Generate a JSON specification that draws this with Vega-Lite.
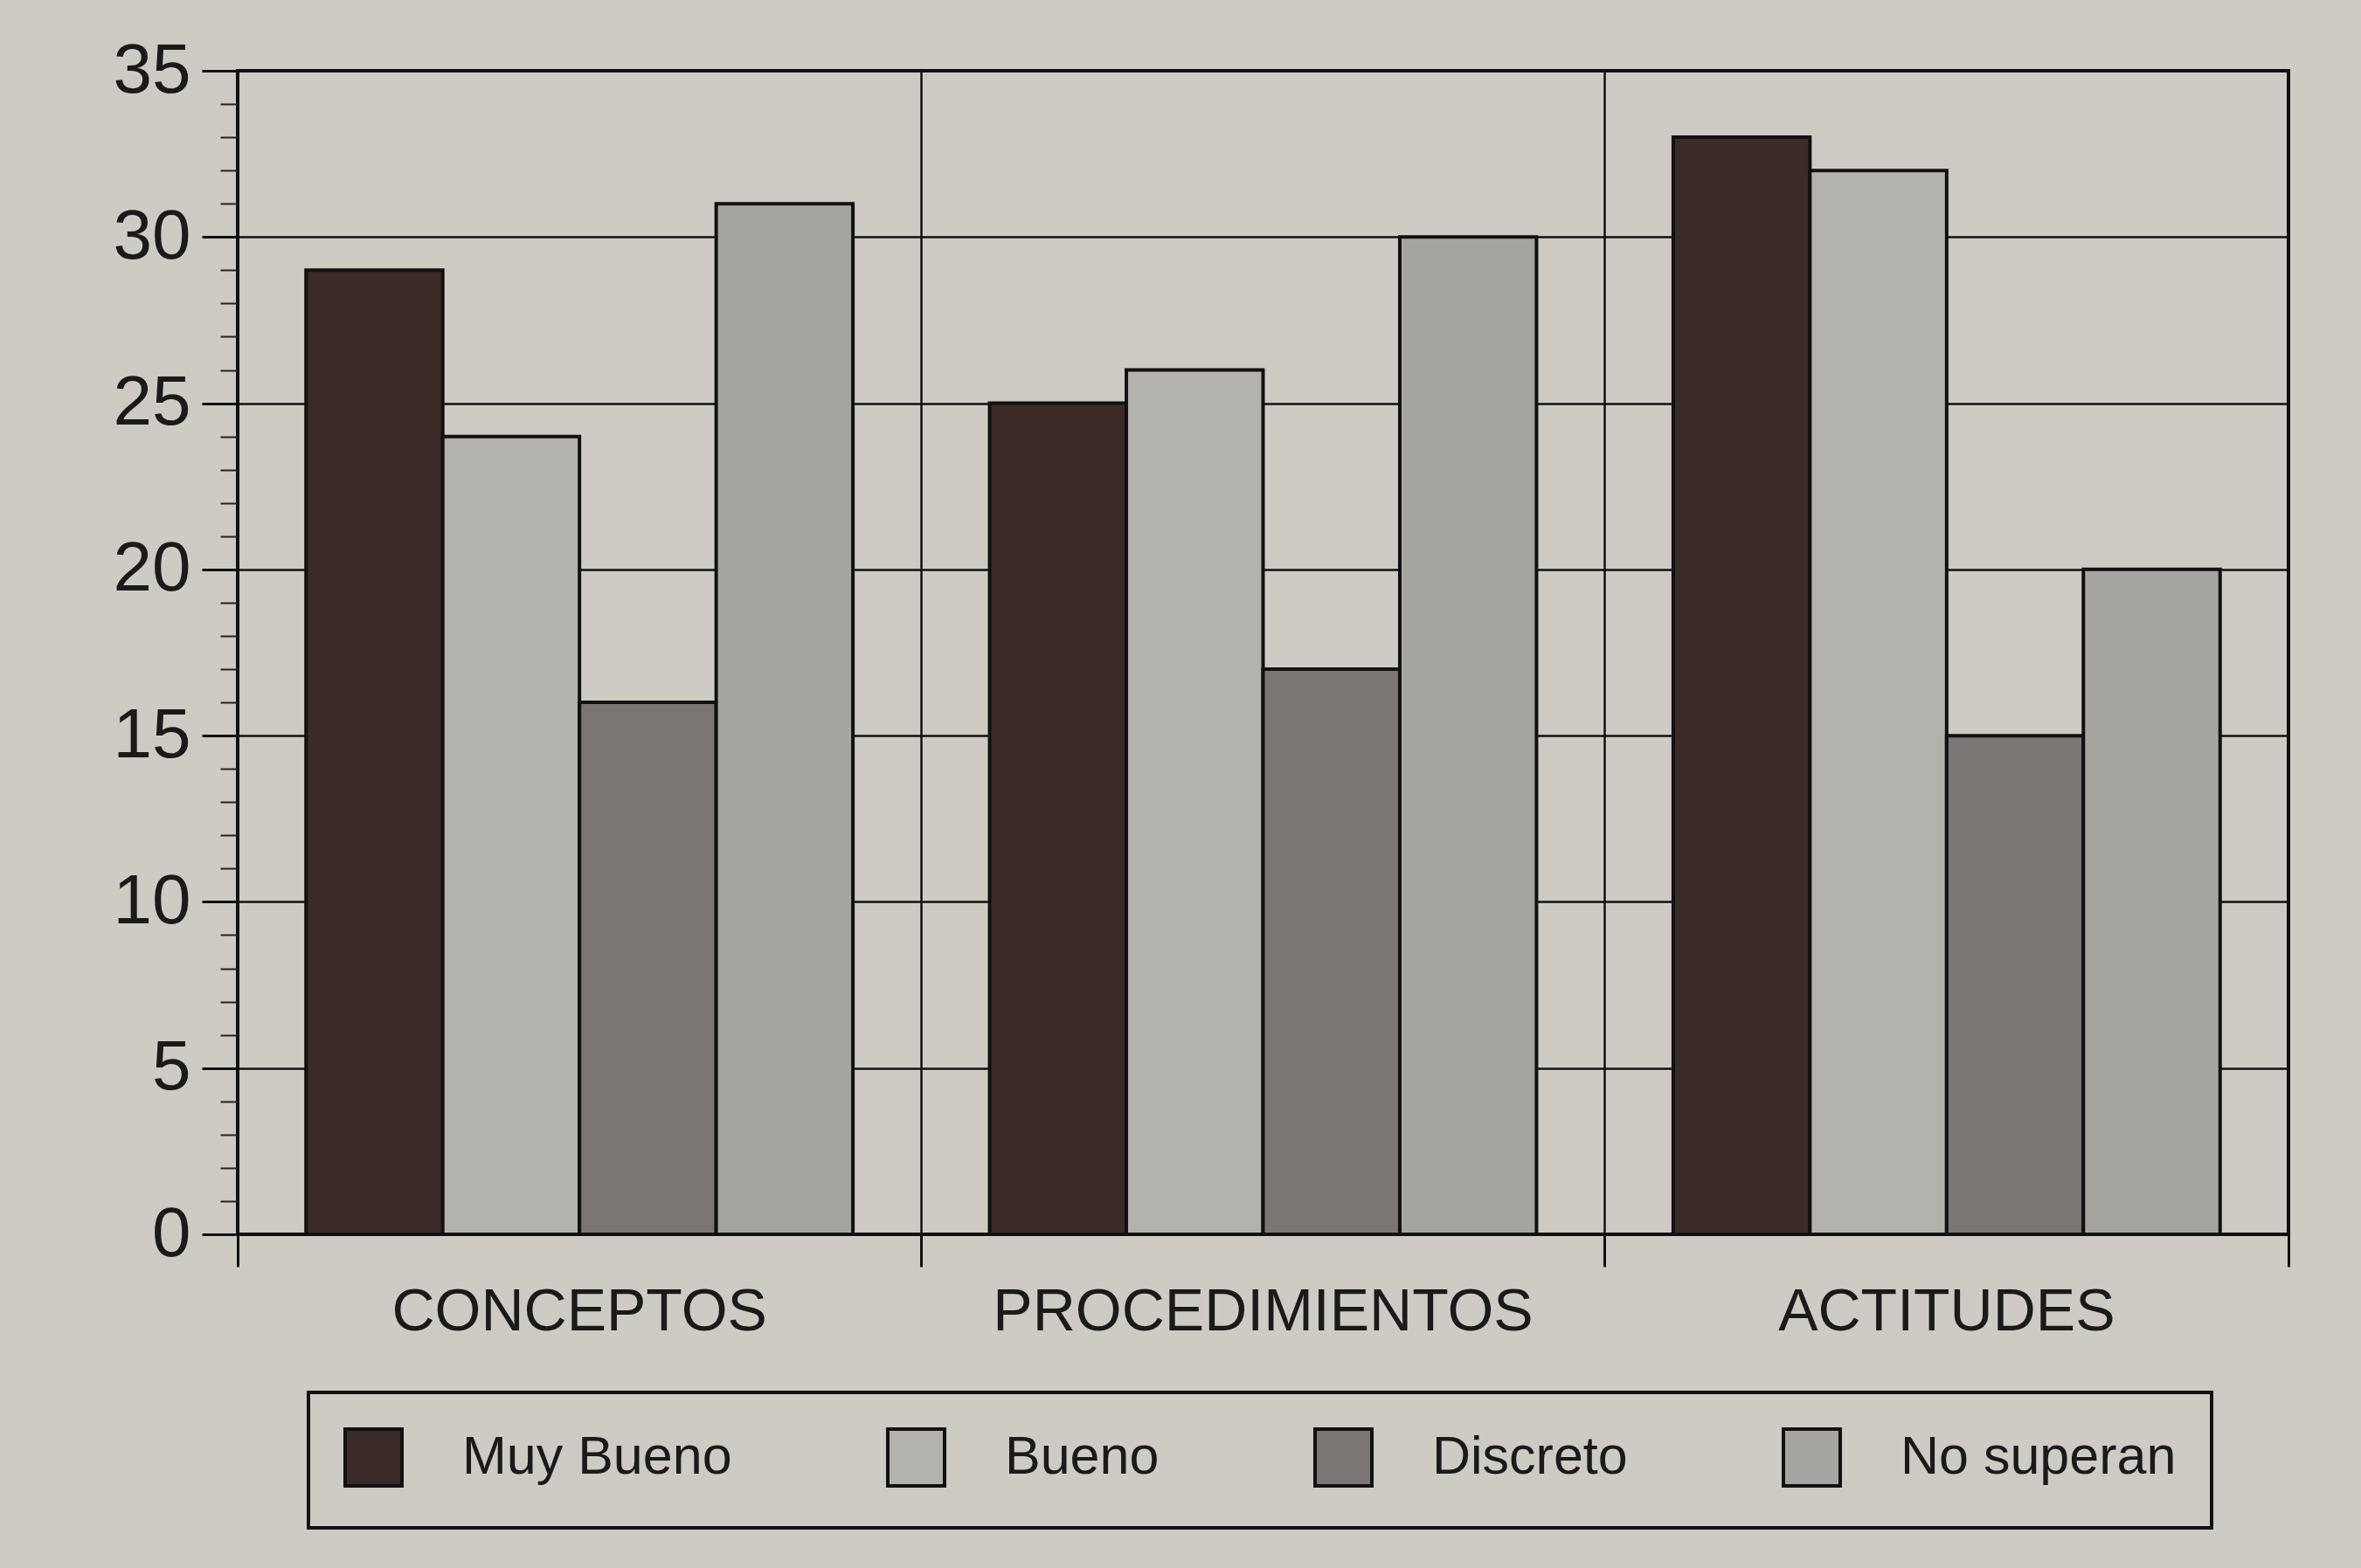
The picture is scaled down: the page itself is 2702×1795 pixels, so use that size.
{
  "$schema": "https://vega.github.io/schema/vega-lite/v6.json",
  "autosize": {"type": "none"},
  "width": 2347,
  "height": 1332,
  "padding": {"left": 272, "top": 81, "right": 83, "bottom": 382},
  "background": "#cdcbc4",
  "config": {
    "view": {"stroke": "#111111", "strokeWidth": 4, "fill": null},
    "font": "Liberation Sans",
    "legend": {"strokeWidth": 4}
  },
  "data": {
    "values": [
      {"cat": "CONCEPTOS", "grade": "Muy Bueno", "value": 29},
      {"cat": "CONCEPTOS", "grade": "Bueno", "value": 24},
      {"cat": "CONCEPTOS", "grade": "Discreto", "value": 16},
      {"cat": "CONCEPTOS", "grade": "No superan", "value": 31},
      {"cat": "PROCEDIMIENTOS", "grade": "Muy Bueno", "value": 25},
      {"cat": "PROCEDIMIENTOS", "grade": "Bueno", "value": 26},
      {"cat": "PROCEDIMIENTOS", "grade": "Discreto", "value": 17},
      {"cat": "PROCEDIMIENTOS", "grade": "No superan", "value": 30},
      {"cat": "ACTITUDES", "grade": "Muy Bueno", "value": 33},
      {"cat": "ACTITUDES", "grade": "Bueno", "value": 32},
      {"cat": "ACTITUDES", "grade": "Discreto", "value": 15},
      {"cat": "ACTITUDES", "grade": "No superan", "value": 20}
    ]
  },
  "layer": [
    {
      "mark": {"type": "bar", "opacity": 0},
      "encoding": {
        "x": {
          "field": "cat", "type": "nominal",
          "sort": ["CONCEPTOS", "PROCEDIMIENTOS", "ACTITUDES"],
          "scale": {"paddingInner": 0, "paddingOuter": 0},
          "axis": {
            "orient": "bottom", "title": null, "bandPosition": 0,
            "labels": false, "domain": false,
            "grid": true, "gridColor": "#111111", "gridWidth": 2.5, "gridOpacity": 1,
            "ticks": true, "tickSize": 37, "tickWidth": 3, "tickColor": "#111111"
          }
        },
        "y": {
          "field": "value", "type": "quantitative",
          "scale": {"domain": [0, 35], "nice": false},
          "axis": {
            "orient": "left", "title": null,
            "values": [0,1,2,3,4,5,6,7,8,9,10,11,12,13,14,15,16,17,18,19,20,21,22,23,24,25,26,27,28,29,30,31,32,33,34,35],
            "labels": false, "domain": false, "grid": false,
            "ticks": true, "tickSize": 20, "tickWidth": 2, "tickColor": "#222222"
          }
        }
      }
    },
    {
      "mark": {"type": "bar", "opacity": 0},
      "encoding": {
        "x": {
          "field": "cat", "type": "nominal",
          "sort": ["CONCEPTOS", "PROCEDIMIENTOS", "ACTITUDES"],
          "axis": {
            "orient": "bottom", "title": null, "bandPosition": 1,
            "values": ["ACTITUDES"],
            "labels": false, "domain": false, "grid": false,
            "ticks": true, "tickSize": 37, "tickWidth": 3, "tickColor": "#111111"
          }
        },
        "y": {
          "field": "value", "type": "quantitative",
          "axis": {
            "orient": "left", "title": null,
            "values": [0, 5, 10, 15, 20, 25, 30, 35],
            "domain": false,
            "grid": true, "gridColor": "#111111", "gridWidth": 2.5, "gridOpacity": 1,
            "ticks": true, "tickSize": 41, "tickWidth": 3, "tickColor": "#111111",
            "labelFontSize": 80, "labelColor": "#1a1a1a", "labelPadding": 13,
            "labelFont": "Liberation Sans"
          }
        }
      }
    },
    {
      "mark": {"type": "bar", "stroke": "#111111", "strokeWidth": 4},
      "encoding": {
        "x": {
          "field": "cat", "type": "nominal",
          "sort": ["CONCEPTOS", "PROCEDIMIENTOS", "ACTITUDES"],
          "axis": {
            "orient": "bottom", "title": null,
            "domain": false, "grid": false, "ticks": false, "tickSize": 0,
            "labelAngle": 0, "labelFontSize": 68, "labelColor": "#1a1a1a",
            "labelPadding": 55, "labelFont": "Liberation Sans", "labelLimit": 1000
          }
        },
        "xOffset": {
          "field": "grade", "type": "nominal",
          "sort": ["Muy Bueno", "Bueno", "Discreto", "No superan"],
          "scale": {"paddingInner": 0, "paddingOuter": 0.5}
        },
        "y": {
          "field": "value", "type": "quantitative",
          "axis": null
        },
        "color": {
          "field": "grade", "type": "nominal",
          "sort": ["Muy Bueno", "Bueno", "Discreto", "No superan"],
          "scale": {
            "domain": ["Muy Bueno", "Bueno", "Discreto", "No superan"],
            "range": ["#3b2a27", "#b4b2ad", "#7b7674", "#a7a5a2"]
          },
          "legend": {
            "orient": "none", "direction": "horizontal",
            "legendX": 81, "legendY": 1513,
            "title": null,
            "symbolType": "square", "symbolSize": 4225,
            "symbolStrokeColor": "#111111", "symbolStrokeWidth": 4,
            "labelFontSize": 61, "labelColor": "#1a1a1a", "labelFont": "Liberation Sans",
            "labelOffset": 67, "columnPadding": 170, "labelLimit": 1000,
            "padding": 40, "strokeColor": "#111111"
          }
        }
      }
    }
  ],
  "resolve": {"axis": {"x": "independent", "y": "independent"}}
}
